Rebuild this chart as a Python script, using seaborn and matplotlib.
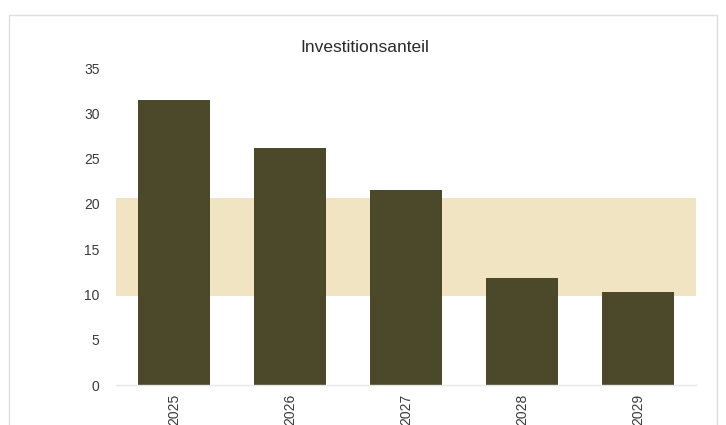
import matplotlib
matplotlib.use("Agg")
import matplotlib.pyplot as plt
from matplotlib.lines import Line2D
import seaborn as sns
import pandas as pd

# Investment share per year
years = ["2025", "2026", "2027", "2028", "2029"]
shares = [31.5, 26.2, 21.5, 11.8, 10.3]

# Target corridor
band_low = 9.8
band_high = 20.7

y_ticks = [0, 5, 10, 15, 20, 25, 30, 35]

bar_color = "#4b492a"
band_color = "#f0e4c3"
text_color = "#3a3a3a"

sns.set_theme(style="white")
plt.rcParams["font.family"] = ["Liberation Sans Narrow", "Liberation Sans", "DejaVu Sans"]

df = pd.DataFrame({"Jahr": years, "Anteil": shares})

fig = plt.figure(figsize=(7.26, 4.25), dpi=100)
ax = fig.add_axes([0.160, 0.094, 0.799, 0.746])

ax.axhspan(band_low, band_high, color=band_color, zorder=0, lw=0)
sns.barplot(data=df, x="Jahr", y="Anteil", color=bar_color, width=0.62,
            saturation=1, linewidth=0, ax=ax, zorder=2)

ax.set_xlim(-0.5, len(years) - 0.5)
ax.set_ylim(0, 35)
ax.set_yticks(y_ticks)
ax.set_yticklabels([str(t) for t in y_ticks], fontsize=10, color=text_color)
ax.tick_params(axis="y", length=0, pad=12)
ax.tick_params(axis="x", length=0, pad=6, labelrotation=90, labelsize=10,
               labelcolor=text_color)
ax.set_xlabel("")
ax.set_ylabel("")
for side in ["top", "right", "left"]:
    ax.spines[side].set_visible(False)
ax.spines["bottom"].set_color("#e6e6e6")
ax.spines["bottom"].set_linewidth(1.0)

fig.text(0.502, 0.888, "Investitionsanteil", ha="center", va="center",
         fontsize=12.5, color="#2a2a2a")

# Faint outer frame of the chart panel
frame_kw = dict(transform=fig.transFigure, color="#dedede", lw=1.0)
fig.add_artist(Line2D([0.012, 0.988], [0.965, 0.965], **frame_kw))
fig.add_artist(Line2D([0.012, 0.012], [0.0, 0.965], **frame_kw))
fig.add_artist(Line2D([0.988, 0.988], [0.0, 0.965], **frame_kw))

fig.savefig("out.png", dpi=100, facecolor="white")
